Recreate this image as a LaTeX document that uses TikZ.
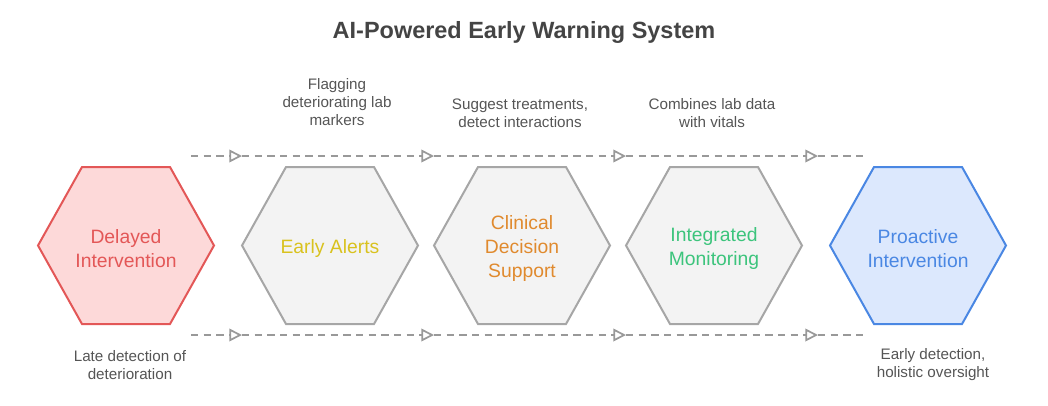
\documentclass[tikz,border=0pt]{standalone}
\usepackage{fontspec}
\setmainfont{Liberation Sans}
\usetikzlibrary{arrows.meta}
\definecolor{redS}{HTML}{E35757}
\definecolor{redF}{HTML}{FDD9D9}
\definecolor{blueS}{HTML}{4A87E3}
\definecolor{blueF}{HTML}{DCE8FD}
\definecolor{grayS}{HTML}{A6A6A6}
\definecolor{grayF}{HTML}{F3F3F3}
\definecolor{yel}{HTML}{D9C21E}
\definecolor{ora}{HTML}{E08A2E}
\definecolor{grn}{HTML}{3CC47C}
\definecolor{titlec}{HTML}{444444}
\definecolor{txt}{HTML}{555555}
\definecolor{linec}{HTML}{999999}
\tikzset{
  hexpath/.style={line width=1.5pt, line join=miter},
  hexlabel/.style={align=center, font=\fontsize{14.5pt}{18pt}\selectfont, yshift=-2pt},
  note/.style={align=center, text=txt, font=\fontsize{11.4pt}{13.5pt}\selectfont},
  flow/.style={draw=linec, line width=1.5pt, dash pattern=on 5.5pt off 4pt,
    -{Triangle[open, length=9.5pt, width=9.5pt, line width=1.3pt, fill=white]}},
  flowend/.style={draw=linec, line width=1.5pt, dash pattern=on 5.5pt off 4pt},
}
\newcommand{\hexat}[3]{%
  \draw[hexpath, draw=#2, fill=#3] (#1) ++(-88,0) -- ++(44,-78.5) -- ++(88,0) -- ++(44,78.5) -- ++(-44,78.5) -- ++(-88,0) -- cycle;}
\begin{document}
\begin{tikzpicture}[x=0.75pt, y=-0.75pt]
\useasboundingbox (0,0) rectangle (1048,405);
% centres
\coordinate (c1) at (126,245.5);
\coordinate (c2) at (330,245.5);
\coordinate (c3) at (522,245.5);
\coordinate (c4) at (714,245.5);
\coordinate (c5) at (918,245.5);
% title
\node[text=titlec, font=\bfseries\fontsize{17.6pt}{20pt}\selectfont] (title) at (524,32) {AI-Powered Early Warning System};
% hexagons
\hexat{c1}{redS}{redF}
\hexat{c2}{grayS}{grayF}
\hexat{c3}{grayS}{grayF}
\hexat{c4}{grayS}{grayF}
\hexat{c5}{blueS}{blueF}
\node[hexlabel, text=redS] (h1) at (c1) {Delayed\\Intervention};
\node[hexlabel, text=yel] (h2) at (c2) {Early Alerts};
\node[hexlabel, text=ora] (h3) at (c3) {Clinical\\Decision\\Support};
\node[hexlabel, text=grn] (h4) at (c4) {Integrated\\Monitoring};
\node[hexlabel, text=blueS] (h5) at (c5) {Proactive\\Intervention};
% flow coordinates
\coordinate (t0) at (191,156);
\coordinate (t1) at (242,156);
\coordinate (t2) at (434,156);
\coordinate (t3) at (626,156);
\coordinate (t4) at (818,156);
\coordinate (t5) at (866,156);
\coordinate (b0) at (191,335);
\coordinate (b1) at (242,335);
\coordinate (b2) at (434,335);
\coordinate (b3) at (626,335);
\coordinate (b4) at (818,335);
\coordinate (b5) at (866,335);
\draw[flow] (t0) -- (t1);
\draw[flow] (t1) -- (t2);
\draw[flow] (t2) -- (t3);
\draw[flow] (t3) -- (t4);
\draw[flowend] (t4) -- (t5);
\draw[flow] (b0) -- (b1);
\draw[flow] (b1) -- (b2);
\draw[flow] (b2) -- (b3);
\draw[flow] (b3) -- (b4);
\draw[flowend] (b4) -- (b5);
% notes
\node[note] (n1) at (337,102) {Flagging\\deteriorating lab\\markers};
\node[note] (n2) at (520,113) {Suggest treatments,\\detect interactions};
\node[note] (n3) at (712,113) {Combines lab data\\with vitals};
\node[note] (n4) at (130,365) {Late detection of\\deterioration};
\node[note] (n5) at (933,365) {Early detection,\\holistic oversight};
\end{tikzpicture}
\end{document}
